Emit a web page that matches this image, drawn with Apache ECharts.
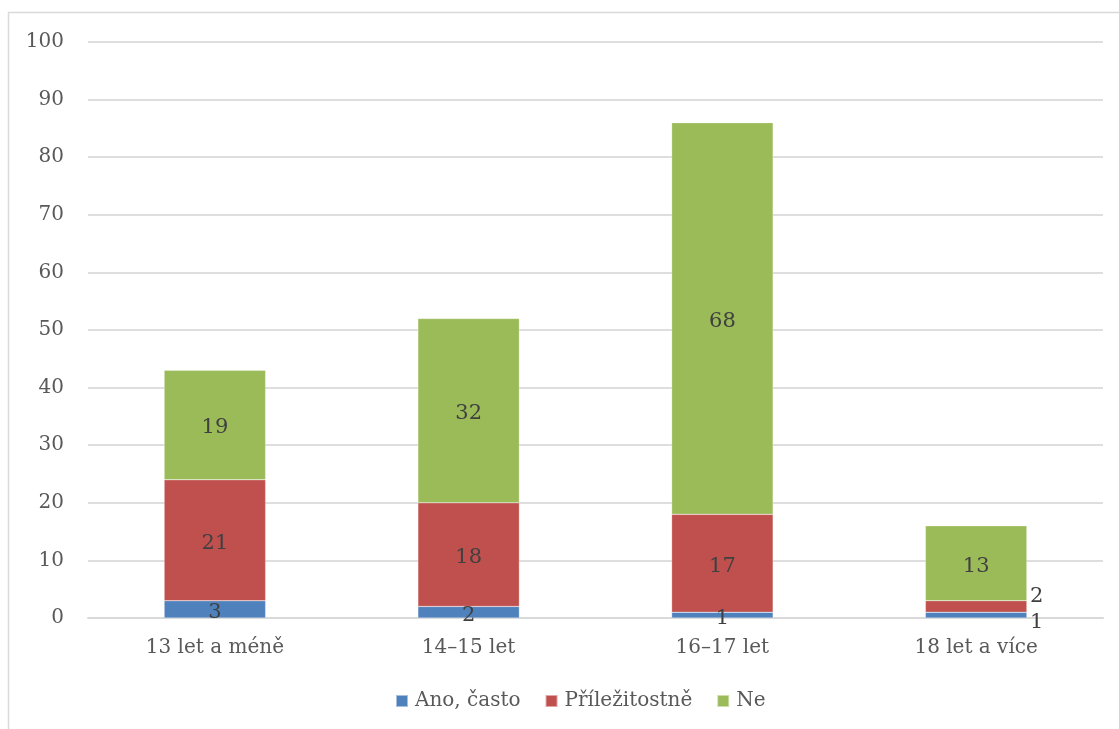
<!DOCTYPE html>
<html>
<head>
<meta charset="utf-8">
<script src="https://cdn.jsdelivr.net/npm/echarts@6/dist/echarts.min.js"></script>
<style>
  html, body { margin: 0; padding: 0; background: #fff; }
  #chart { width: 1119px; height: 729px; }
</style>
</head>
<body>
<div id="chart"></div>
<script>
// Age groups and answer counts per group
const categories = ['13 let a méně', '14–15 let', '16–17 let', '18 let a více'];
const anoCasto = [3, 2, 1, 1];
const prilezitostne = [21, 18, 17, 2];
const ne = [19, 32, 68, 13];
const seriesNames = ['Ano, často', 'Příležitostně', 'Ne'];
const seriesColors = ['#4F81BD', '#C0504D', '#9BBB59'];

const FONT = 'DejaVu Serif';

// Small segments in the last group get their labels beside the bar
function withSideLabels(values, sideIndex, offset) {
  return values.map((v, i) => {
    if (i !== sideIndex) return v;
    return {
      value: v,
      label: { position: 'right', distance: 3, offset: offset }
    };
  });
}

const labelStyle = {
  show: true,
  position: 'inside',
  offset: [0, 3],
  color: '#404040',
  fontFamily: FONT,
  fontSize: 21
};

const chart = echarts.init(document.getElementById('chart'), null, { renderer: 'canvas' });

chart.setOption({
  animation: false,
  backgroundColor: '#fff',
  color: seriesColors,
  graphic: [{
    type: 'rect',
    shape: { x: 8.5, y: 12.5, width: 1200, height: 800 },
    style: { fill: 'none', stroke: '#d9d9d9', lineWidth: 1.5 },
    silent: true,
    z: -1
  }],
  grid: { left: 88, right: 16, top: 42, bottom: 111 },
  legend: {
    bottom: 13,
    left: 390,
    itemWidth: 12,
    itemHeight: 12,
    itemGap: 24,
    icon: 'rect',
    textStyle: { color: '#595959', fontFamily: FONT, fontSize: 20, padding: [0, 0, 0, 2] },
    data: seriesNames
  },
  xAxis: {
    type: 'category',
    data: categories,
    axisLine: { show: true, lineStyle: { color: '#d9d9d9', width: 2 } },
    axisTick: { show: false },
    axisLabel: { color: '#595959', fontFamily: FONT, fontSize: 20, margin: 20 }
  },
  yAxis: {
    type: 'value',
    min: 0,
    max: 100,
    interval: 10,
    axisLine: { show: false },
    axisTick: { show: false },
    axisLabel: { color: '#595959', fontFamily: FONT, fontSize: 20, margin: 24 },
    splitLine: { lineStyle: { color: '#dedede', width: 2 } }
  },
  series: [
    {
      name: seriesNames[0],
      type: 'bar',
      stack: 'total',
      barWidth: '40%',
      data: withSideLabels(anoCasto, 3, [0, 7]),
      itemStyle: { borderColor: 'rgba(255,255,255,0.5)', borderWidth: 0.5 },
      label: labelStyle
    },
    {
      name: seriesNames[1],
      type: 'bar',
      stack: 'total',
      data: withSideLabels(prilezitostne, 3, [0, -10]),
      itemStyle: { borderColor: 'rgba(255,255,255,0.5)', borderWidth: 0.5 },
      label: labelStyle
    },
    {
      name: seriesNames[2],
      type: 'bar',
      stack: 'total',
      data: ne,
      itemStyle: { borderColor: 'rgba(255,255,255,0.5)', borderWidth: 0.5 },
      label: labelStyle
    }
  ]
});
</script>
</body>
</html>
